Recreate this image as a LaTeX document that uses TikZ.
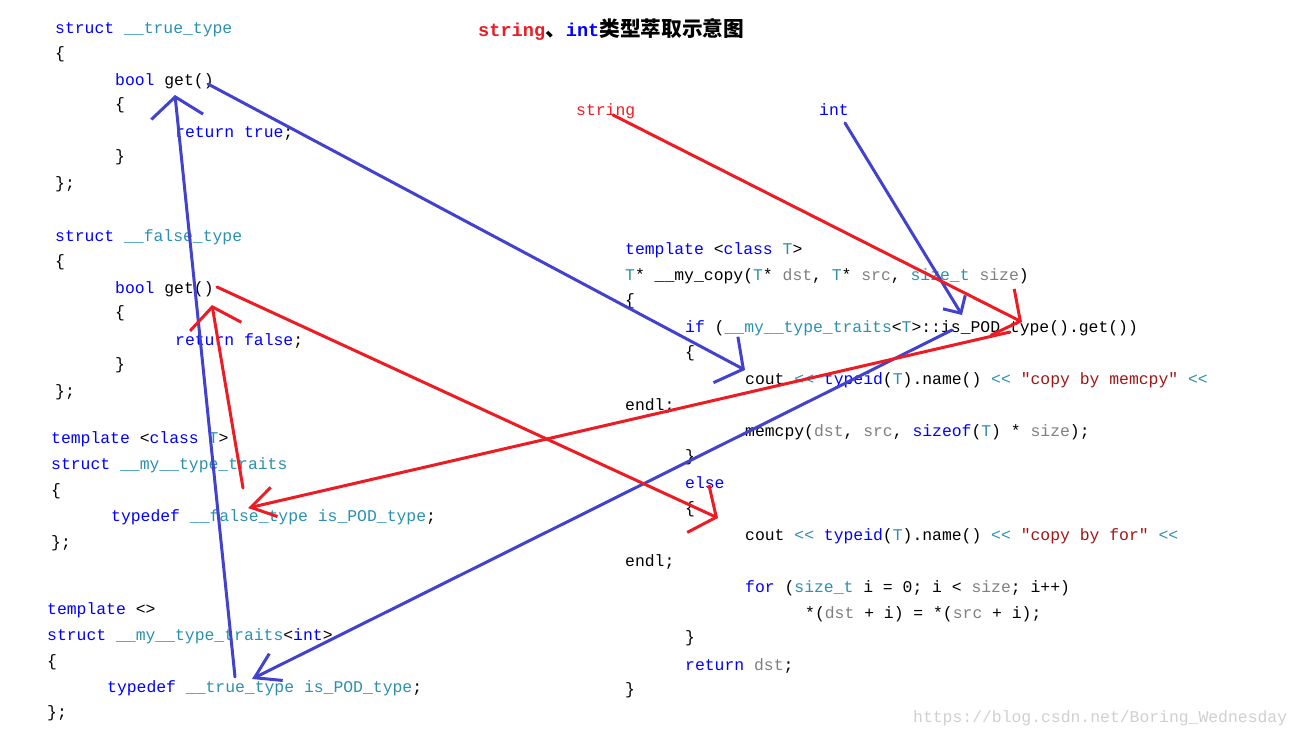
\documentclass[tikz,border=0pt]{standalone}
\usepackage{fontspec}
\setmonofont{Liberation Mono}
\newfontfamily\cjk{Noto Sans CJK SC}
\usepackage{xcolor}
\usepackage{tikz}
\usetikzlibrary{arrows.meta}

\definecolor{kwblue}{RGB}{0,0,255}
\definecolor{tyteal}{RGB}{43,145,175}
\definecolor{prmgrey}{RGB}{128,128,128}
\definecolor{strred}{RGB}{163,21,21}
\definecolor{arrblue}{RGB}{66,66,206}
\definecolor{arrred}{RGB}{237,28,36}
\definecolor{wmgrey}{RGB}{208,208,208}

\newcommand{\kwd}[1]{\textcolor{kwblue}{#1}}
\newcommand{\tyn}[1]{\textcolor{tyteal}{#1}}
\newcommand{\prm}[1]{\textcolor{prmgrey}{#1}}
\newcommand{\strl}[1]{\textcolor{strred}{#1}}

\begin{document}
\begin{tikzpicture}[x=1pt,y=-1pt,
  codeline/.style={anchor=west,inner sep=0pt,text height=12pt,text depth=3pt,
                   font=\ttfamily\fontsize{16.4}{20}\selectfont},
  bluearr/.style={draw=arrblue,line width=3pt,line cap=round},
  redarr/.style={draw=arrred,line width=3pt,line cap=round},
  bighead/.style={-{Straight Barb[length=20pt,width=52pt]}},
  narrowhead/.style={-{Straight Barb[length=24pt,width=30pt]}},
  smallhead/.style={-{Straight Barb[length=13pt,width=26pt]}}]
  \fill[white] (0,0) rectangle (1304,738);
  \useasboundingbox (0,0) rectangle (1304,738);

  % ---- title ----
  \node[anchor=west,inner sep=0pt] (ttl) at (478,29)
    {\ttfamily\bfseries\fontsize{18.6}{22}\selectfont\textcolor{arrred}{string}%
     {\cjk\bfseries\fontsize{20.7}{24}\selectfont 、}\textcolor{kwblue}{int}%
     {\cjk\bfseries\fontsize{20.7}{24}\selectfont 类型萃取示意图}};
  \node[codeline,text=arrred] (lstr) at (576,111) {string};
  \node[codeline,text=kwblue] (lint) at (819,111) {int};

  % ---- left: __true_type ----
  \node[codeline] (tt1) at (55,29)  {\kwd{struct} \tyn{\_\_true\_type}};
  \node[codeline] (tt2) at (55,54)  {\{};
  \node[codeline] (tt3) at (115,81) {\kwd{bool} get()};
  \node[codeline] (tt4) at (115,105) {\{};
  \node[codeline] (tt5) at (175,133) {\kwd{return} \kwd{true};};
  \node[codeline] (tt6) at (115,157) {\}};
  \node[codeline] (tt7) at (55,184) {\};};

  % ---- left: __false_type ----
  \node[codeline] (ft1) at (55,237)  {\kwd{struct} \tyn{\_\_false\_type}};
  \node[codeline] (ft2) at (55,262)  {\{};
  \node[codeline] (ft3) at (115,289) {\kwd{bool} get()};
  \node[codeline] (ft4) at (115,313) {\{};
  \node[codeline] (ft5) at (175,341) {\kwd{return} \kwd{false};};
  \node[codeline] (ft6) at (115,365) {\}};
  \node[codeline] (ft7) at (55,392) {\};};

  % ---- left: general traits ----
  \node[codeline] (tr1) at (51,439)  {\kwd{template} <\kwd{class} \tyn{T}>};
  \node[codeline] (tr2) at (51,465)  {\kwd{struct} \tyn{\_\_my\_\_type\_traits}};
  \node[codeline] (tr3) at (51,491)  {\{};
  \node[codeline] (tr4) at (111,517) {\kwd{typedef} \tyn{\_\_false\_type} \tyn{is\_POD\_type};};
  \node[codeline] (tr5) at (51,543)  {\};};

  % ---- left: int specialisation ----
  \node[codeline] (sp1) at (47,610)  {\kwd{template} <>};
  \node[codeline] (sp2) at (47,636)  {\kwd{struct} \tyn{\_\_my\_\_type\_traits}<\kwd{int}>};
  \node[codeline] (sp3) at (47,662)  {\{};
  \node[codeline] (sp4) at (107,688) {\kwd{typedef} \tyn{\_\_true\_type} \tyn{is\_POD\_type};};
  \node[codeline] (sp5) at (47,713)  {\};};

  % ---- right: __my_copy ----
  \node[codeline] (cp1)  at (625,250) {\kwd{template} <\kwd{class} \tyn{T}>};
  \node[codeline] (cp2)  at (625,276) {\tyn{T}* \_\_my\_copy(\tyn{T}* \prm{dst}, \tyn{T}* \prm{src}, \tyn{size\_t} \prm{size})};
  \node[codeline] (cp3)  at (625,301) {\{};
  \node[codeline] (cp4)  at (685,328) {\kwd{if} (\tyn{\_\_my\_\_type\_traits}<\tyn{T}>::is\_POD\_type().get())};
  \node[codeline] (cp5)  at (685,353) {\{};
  \node[codeline] (cp6)  at (745,380) {cout \tyn{<<} \kwd{typeid}(\tyn{T}).name() \tyn{<<} \strl{"copy by memcpy"} \tyn{<<}};
  \node[codeline] (cp7)  at (625,406) {endl;};
  \node[codeline] (cp8)  at (745,432) {memcpy(\prm{dst}, \prm{src}, \kwd{sizeof}(\tyn{T}) * \prm{size});};
  \node[codeline] (cp9)  at (685,457) {\}};
  \node[codeline] (cp10) at (685,484) {\kwd{else}};
  \node[codeline] (cp11) at (685,509) {\{};
  \node[codeline] (cp12) at (745,536) {cout \tyn{<<} \kwd{typeid}(\tyn{T}).name() \tyn{<<} \strl{"copy by for"} \tyn{<<}};
  \node[codeline] (cp13) at (625,562) {endl;};
  \node[codeline] (cp14) at (745,588) {\kwd{for} (\tyn{size\_t} i = 0; i < \prm{size}; i++)};
  \node[codeline] (cp15) at (805,614) {*(\prm{dst} + i) = *(\prm{src} + i);};
  \node[codeline] (cp16) at (685,638) {\}};
  \node[codeline] (cp17) at (685,666) {\kwd{return} \prm{dst};};
  \node[codeline] (cp18) at (625,690) {\}};

  \node[codeline,text=wmgrey] (wm) at (913,718) {https://blog.csdn.net/Boring\_Wednesday};

  % ---- arrow ends ----
  \coordinate (intFrom)   at (845,123);
  \coordinate (intTo)     at (962,315);
  \coordinate (strFrom)   at (613,115);
  \coordinate (strTo)     at (1022,322);
  \coordinate (podBlue)   at (952,330);
  \coordinate (podRed)    at (1010,332);
  \coordinate (trueTdef)  at (252,679);
  \coordinate (trueTail)  at (235,677);
  \coordinate (trueGet)   at (175,95);
  \coordinate (trueGetR)  at (208,84);
  \coordinate (memcpyIn)  at (745,370);
  \coordinate (falseTdef) at (248,508);
  \coordinate (falseTail) at (243,488);
  \coordinate (falseGet)  at (212,305);
  \coordinate (falseGetR) at (217,287);
  \coordinate (forIn)     at (718,518);

  % ---- int path (blue) ----
  \foreach \a/\b/\h in {intFrom/intTo/smallhead, podBlue/trueTdef/narrowhead,
                        trueTail/trueGet/bighead, trueGetR/memcpyIn/bighead}
    \draw[bluearr,\h] (\a) -- (\b);
  % ---- string path (red) ----
  \foreach \a/\b/\h in {strFrom/strTo/bighead, podRed/falseTdef/narrowhead,
                        falseTail/falseGet/bighead, falseGetR/forIn/bighead}
    \draw[redarr,\h] (\a) -- (\b);
\end{tikzpicture}
\end{document}
